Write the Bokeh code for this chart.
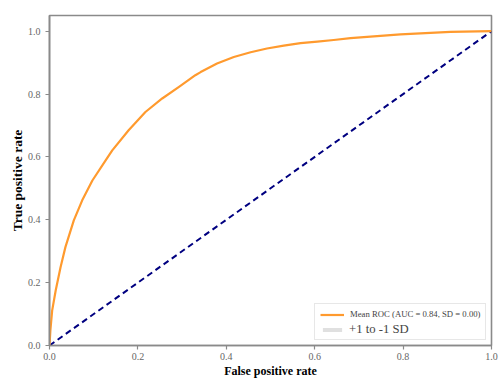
from bokeh.plotting import figure
from bokeh.models import Legend, LegendItem, Range1d, FixedTicker
from bokeh.embed import file_html
from bokeh.resources import INLINE

fpr = [0.0, 0.002, 0.006, 0.014, 0.025, 0.036, 0.055, 0.074, 0.097, 0.127, 0.142,
       0.179, 0.217, 0.255, 0.293, 0.330, 0.342, 0.379, 0.417, 0.455, 0.492,
       0.530, 0.568, 0.606, 0.643, 0.681, 0.794, 0.907, 1.0]
tpr = [0.0, 0.048, 0.111, 0.175, 0.249, 0.313, 0.398, 0.462, 0.525, 0.589, 0.621,
       0.685, 0.743, 0.786, 0.823, 0.860, 0.870, 0.897, 0.918, 0.933, 0.945,
       0.954, 0.962, 0.967, 0.972, 0.978, 0.990, 0.998, 1.0]
tpr_upper = list(tpr)   # SD = 0.00, so the band collapses onto the mean curve
tpr_lower = list(tpr)
chance_x = [0.0, 1.0]
chance_y = [0.0, 1.0]
ticks = [0.0, 0.2, 0.4, 0.6, 0.8, 1.0]
label_mean = "Mean ROC (AUC = 0.84, SD = 0.00)"
label_band = "+1 to -1 SD"

p = figure(width=499, height=381, output_backend="svg", toolbar_location=None,
           x_range=Range1d(0, 1), y_range=Range1d(0, 1.05),
           min_border_left=49, min_border_top=15, min_border_right=8, min_border_bottom=36)
p.xgrid.visible = False
p.ygrid.visible = False
p.outline_line_color = "#8a8a8a"
p.outline_line_width = 1.6

band = p.varea(x=fpr, y1=tpr_lower, y2=tpr_upper, fill_color="#e0e0e0", fill_alpha=1.0)
chance = p.line(chance_x, chance_y, line_color="navy", line_width=2, line_dash="6 4")
roc = p.line(fpr, tpr, line_color="#ff9a2e", line_width=2.2, line_join="round")
ghost = p.line(fpr, tpr, line_alpha=0)

for ax in (p.xaxis[0], p.yaxis[0]):
    ax.ticker = FixedTicker(ticks=ticks)
    ax.major_label_overrides = {t: f"{t:.1f}" for t in ticks}
    ax.minor_tick_line_color = None
    ax.axis_line_color = "#8a8a8a"
    ax.axis_line_width = 1.6
    ax.major_tick_line_color = "#8a8a8a"
    ax.major_tick_line_width = 1.2
    ax.major_tick_out = 4
    ax.major_tick_in = 0
    ax.major_label_text_font = "Liberation Serif"
    ax.major_label_text_font_size = "10px"
    ax.major_label_text_color = "#666666"
    ax.axis_label_text_font = "Liberation Serif"
    ax.axis_label_text_font_style = "bold"
    ax.axis_label_text_color = "black"

p.xaxis.axis_label = "False positive rate"
p.yaxis.axis_label = "True positive rate"
p.xaxis.axis_label_text_font_size = "12px"
p.yaxis.axis_label_text_font_size = "13.5px"
p.xaxis.major_label_standoff = 3
p.yaxis.major_label_standoff = 5
p.xaxis.axis_label_standoff = 1
p.yaxis.axis_label_standoff = 0

# legend box with the small first entry and the grey patch of the second
legend1 = Legend(items=[
    LegendItem(label=label_mean, renderers=[roc]),
    LegendItem(label=" ", renderers=[band]),
], location=(265, 5))
legend1.label_text_font = "Liberation Serif"
legend1.label_text_font_size = "8.7px"
legend1.glyph_width = 24
legend1.glyph_height = 5
legend1.label_height = 10
legend1.spacing = 5
legend1.padding = 5
legend1.margin = 0
legend1.label_standoff = 6
legend1.border_line_color = "#d0d0d0"
legend1.border_line_width = 1
legend1.background_fill_color = "white"
legend1.background_fill_alpha = 0.85
p.add_layout(legend1)

# larger text of the second entry
legend2 = Legend(items=[LegendItem(label=label_band, renderers=[ghost])], location=(270, 8))
legend2.label_text_font = "Liberation Serif"
legend2.label_text_font_size = "12.7px"
legend2.glyph_width = 24
legend2.glyph_height = 5
legend2.label_height = 15
legend2.padding = 0
legend2.margin = 0
legend2.label_standoff = 6
legend2.border_line_color = None
legend2.background_fill_alpha = 0
p.add_layout(legend2)

open("out.html", "w").write(file_html(p, INLINE))
